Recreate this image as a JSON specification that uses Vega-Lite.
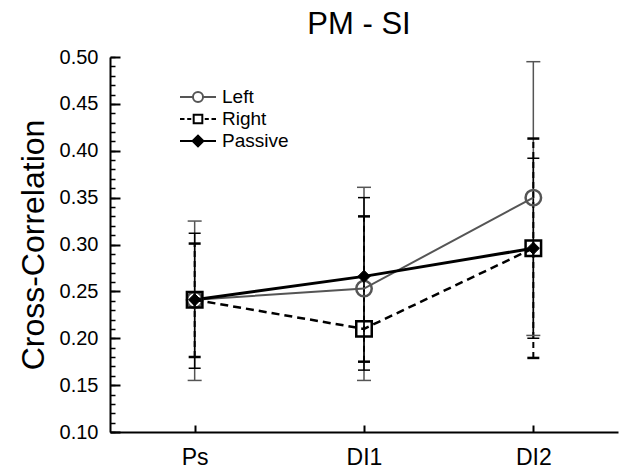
{
  "$schema": "https://vega.github.io/schema/vega-lite/v6.json",
  "width": 508,
  "height": 375,
  "autosize": {"type": "none"},
  "padding": {"left": 110, "top": 57, "right": 3, "bottom": 37},
  "background": "white",
  "config": {
    "view": {"stroke": null},
    "font": "Liberation Sans",
    "axis": {"grid": false, "labelFont": "Liberation Sans", "titleFont": "Liberation Sans"}
  },
  "title": {"text": "PM - SI", "fontSize": 31, "fontWeight": "normal", "font": "Liberation Sans", "color": "black", "anchor": "middle", "frame": "group", "baseline": "bottom", "offset": 14, "dx": -5, "dy": 39},
  "data": {
    "values": [
      {"series": "Left", "cond": "Ps", "mean": 0.241, "lo": 0.155, "hi": 0.325},
      {"series": "Left", "cond": "DI1", "mean": 0.253, "lo": 0.155, "hi": 0.361},
      {"series": "Left", "cond": "DI2", "mean": 0.350, "lo": 0.203, "hi": 0.495},
      {"series": "Right", "cond": "Ps", "mean": 0.241, "lo": 0.180, "hi": 0.301},
      {"series": "Right", "cond": "DI1", "mean": 0.210, "lo": 0.175, "hi": 0.330},
      {"series": "Right", "cond": "DI2", "mean": 0.296, "lo": 0.179, "hi": 0.413},
      {"series": "Passive", "cond": "Ps", "mean": 0.241, "lo": 0.168, "hi": 0.312},
      {"series": "Passive", "cond": "DI1", "mean": 0.266, "lo": 0.166, "hi": 0.350},
      {"series": "Passive", "cond": "DI2", "mean": 0.296, "lo": 0.200, "hi": 0.392}
    ]
  },
  "encoding": {
    "x": {
      "field": "cond", "type": "ordinal",
      "scale": {"type": "point", "padding": 0.5, "domain": ["Ps", "DI1", "DI2"]},
      "axis": {"title": null, "labelAngle": 0, "labelFontSize": 23, "labelColor": "black", "labelPadding": 21, "domainColor": "black", "domainWidth": 2, "tickColor": "black", "tickSize": -7, "tickWidth": 2}
    }
  },
  "layer": [
    {
      "transform": [{"filter": "datum.series === 'Left'"}],
      "mark": {"type": "rule", "stroke": "#555555", "strokeWidth": 1.5},
      "encoding": {
        "y": {"field": "lo", "type": "quantitative", "scale": {"domain": [0.1, 0.5], "nice": false, "zero": false},
          "axis": {"orient": "left", "values": [0.1, 0.15, 0.2, 0.25, 0.3, 0.35, 0.4, 0.45, 0.5], "format": ".2f", "title": "Cross-Correlation", "titleFontSize": 32, "titleFontWeight": "normal", "titleColor": "black", "titlePadding": 9, "labelFontSize": 20, "labelColor": "black", "labelPadding": 22, "labelFlush": false, "labelOverlap": false, "labelBound": false, "tickSize": -10, "tickWidth": 2, "tickColor": "black", "domainColor": "black", "domainWidth": 2}},
        "y2": {"field": "hi"}
      }
    },
    {
      "transform": [{"filter": "datum.series === 'Passive'"}],
      "mark": {"type": "rule", "stroke": "black", "strokeWidth": 1.5},
      "encoding": {"y": {"field": "lo", "type": "quantitative", "axis": null}, "y2": {"field": "hi"}}
    },
    {
      "transform": [{"filter": "datum.series === 'Right'"}],
      "mark": {"type": "rule", "stroke": "black", "strokeWidth": 2, "strokeDash": [6, 4]},
      "encoding": {"y": {"field": "lo", "type": "quantitative", "axis": null}, "y2": {"field": "hi"}}
    },
    {
      "transform": [{"filter": "datum.series === 'Left'"}, {"fold": ["lo", "hi"], "as": ["bound", "v"]}],
      "mark": {"type": "point", "shape": "M-1,0H1", "size": 196, "filled": false, "stroke": "#555555", "strokeWidth": 1.5, "opacity": 1},
      "encoding": {"y": {"field": "v", "type": "quantitative", "axis": null}}
    },
    {
      "transform": [{"filter": "datum.series === 'Passive'"}, {"fold": ["lo", "hi"], "as": ["bound", "v"]}],
      "mark": {"type": "point", "shape": "M-1,0H1", "size": 144, "filled": false, "stroke": "black", "strokeWidth": 1.5, "opacity": 1},
      "encoding": {"y": {"field": "v", "type": "quantitative", "axis": null}}
    },
    {
      "transform": [{"filter": "datum.series === 'Right'"}, {"fold": ["lo", "hi"], "as": ["bound", "v"]}],
      "mark": {"type": "point", "shape": "M-1,0H1", "size": 144, "filled": false, "stroke": "black", "strokeWidth": 2.5, "opacity": 1},
      "encoding": {"y": {"field": "v", "type": "quantitative", "axis": null}}
    },
    {
      "transform": [{"filter": "datum.series === 'Left'"}],
      "mark": {"type": "line", "stroke": "#555555", "strokeWidth": 2},
      "encoding": {"y": {"field": "mean", "type": "quantitative",
        "axis": {"orient": "left", "values": [0.1, 0.11, 0.12, 0.13, 0.14, 0.15, 0.16, 0.17, 0.18, 0.19, 0.2, 0.21, 0.22, 0.23, 0.24, 0.25, 0.26, 0.27, 0.28, 0.29, 0.3, 0.31, 0.32, 0.33, 0.34, 0.35, 0.36, 0.37, 0.38, 0.39, 0.4, 0.41, 0.42, 0.43, 0.44, 0.45, 0.46, 0.47, 0.48, 0.49, 0.5], "labels": false, "domain": false, "title": null, "tickSize": -5, "tickWidth": 1.5, "tickColor": "black"}}}
    },
    {
      "transform": [{"filter": "datum.series === 'Right'"}],
      "mark": {"type": "line", "stroke": "black", "strokeWidth": 2.5, "strokeDash": [8, 5]},
      "encoding": {"y": {"field": "mean", "type": "quantitative", "axis": null}}
    },
    {
      "transform": [{"filter": "datum.series === 'Passive'"}],
      "mark": {"type": "line", "stroke": "black", "strokeWidth": 3},
      "encoding": {"y": {"field": "mean", "type": "quantitative", "axis": null}}
    },
    {
      "transform": [{"filter": "datum.series === 'Left'"}],
      "mark": {"type": "point", "shape": "circle", "size": 240, "filled": false, "fill": "transparent", "stroke": "#555555", "strokeWidth": 2.5, "opacity": 1},
      "encoding": {"y": {"field": "mean", "type": "quantitative", "axis": null}}
    },
    {
      "transform": [{"filter": "datum.series === 'Passive'"}],
      "mark": {"type": "point", "shape": "diamond", "size": 150, "filled": true, "fill": "black", "stroke": "black", "strokeWidth": 1, "opacity": 1},
      "encoding": {"y": {"field": "mean", "type": "quantitative", "axis": null}}
    },
    {
      "transform": [{"filter": "datum.series === 'Right'"}],
      "mark": {"type": "point", "shape": "square", "size": 240, "filled": false, "fill": "transparent", "stroke": "black", "strokeWidth": 2.5, "opacity": 1},
      "encoding": {"y": {"field": "mean", "type": "quantitative", "axis": null}}
    },
    {
      "transform": [{"filter": "datum.cond === 'Ps'"}],
      "mark": {"type": "point", "opacity": 0},
      "encoding": {
        "y": {"field": "mean", "type": "quantitative", "axis": null},
        "shape": {"field": "series", "type": "nominal",
          "scale": {"domain": ["Left", "Right", "Passive"], "range": [
            "M-2,0H-0.56M0.56,0H2M-0.56,0A0.56,0.56 0 1,0 0.56,0A0.56,0.56 0 1,0 -0.56,0",
            "M-2,0H-1.5M-1.2,0H-0.75M0.75,0H1.2M1.5,0H2M-0.48,-0.48H0.48V0.48H-0.48Z",
            "M-2,0H2M-0.6,0L0,-0.6L0.6,0L0,0.6Z"]},
          "legend": {"title": null, "orient": "none", "legendX": 78, "legendY": 30, "padding": 0, "symbolSize": 324, "symbolStrokeWidth": 2, "symbolOpacity": 1, "labelFontSize": 19, "labelColor": "black", "labelFont": "Liberation Sans", "labelOffset": 14, "rowPadding": 2}},
        "stroke": {"field": "series", "type": "nominal",
          "scale": {"domain": ["Left", "Right", "Passive"], "range": ["#555555", "black", "black"]},
          "legend": {"title": null, "orient": "none", "legendX": 78, "legendY": 30, "padding": 0, "symbolSize": 324, "symbolStrokeWidth": 2, "symbolOpacity": 1, "labelFontSize": 19, "labelColor": "black", "labelFont": "Liberation Sans", "labelOffset": 14, "rowPadding": 2}},
        "fill": {"field": "series", "type": "nominal",
          "scale": {"domain": ["Left", "Right", "Passive"], "range": ["transparent", "transparent", "black"]},
          "legend": {"title": null, "orient": "none", "legendX": 78, "legendY": 30, "padding": 0, "symbolSize": 324, "symbolStrokeWidth": 2, "symbolOpacity": 1, "labelFontSize": 19, "labelColor": "black", "labelFont": "Liberation Sans", "labelOffset": 14, "rowPadding": 2}}
      }
    }
  ],
  "resolve": {"axis": {"y": "independent"}}
}
